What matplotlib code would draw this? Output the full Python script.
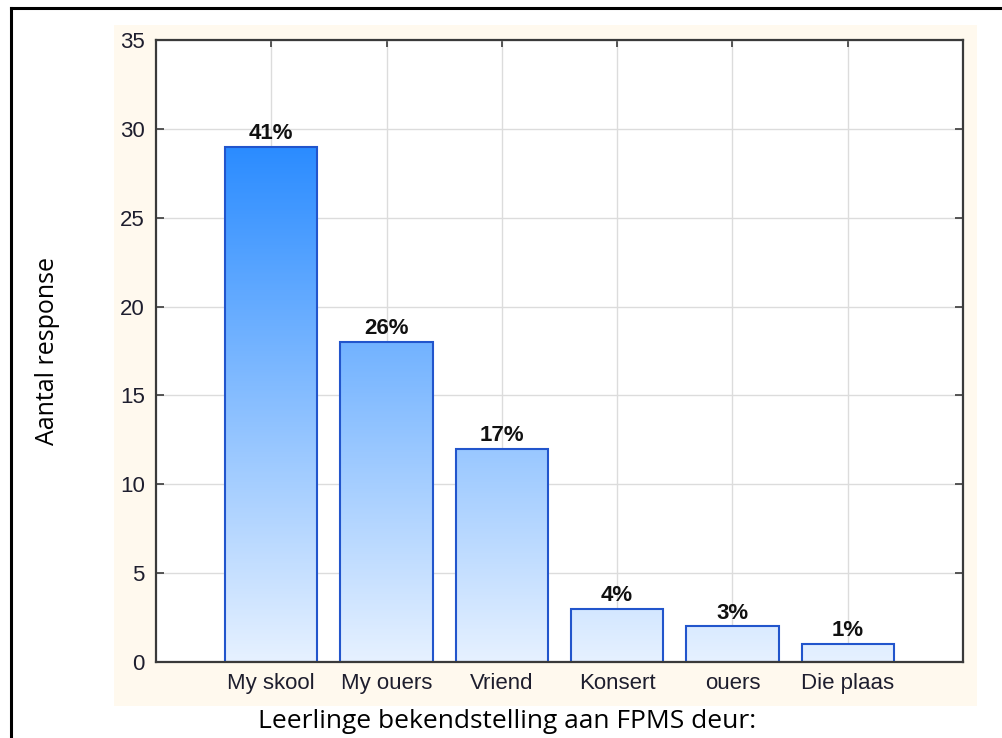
import numpy as np
import matplotlib
matplotlib.use("Agg")
import matplotlib.pyplot as plt
from matplotlib.colors import LinearSegmentedColormap
from matplotlib.patches import Rectangle
from matplotlib.lines import Line2D

categories = ["My skool", "My ouers", "Vriend", "Konsert", "ouers", "Die plaas"]
values = [29, 18, 12, 3, 2, 1]
pct_labels = ["41%", "26%", "17%", "4%", "3%", "1%"]
yticks = [0, 5, 10, 15, 20, 25, 30, 35]
xlabel = "Leerlinge bekendstelling aan FPMS deur:"
ylabel = "Aantal response"

W, H = 1002, 738
fig = plt.figure(figsize=(W / 100, H / 100), dpi=100)
fig.patch.set_facecolor("white")

# cream panel behind the plot
fig.patches.append(Rectangle((114 / W, 1 - 706 / H), (977 - 114) / W, (706 - 25) / H,
                             transform=fig.transFigure, facecolor="#FFF9EE",
                             edgecolor="none", zorder=-10))
# outer black frame (left and top)
fig.lines.append(Line2D([11 / W, 11 / W], [0, 1 - 8 / H], transform=fig.transFigure,
                        color="black", lw=2.2))
fig.lines.append(Line2D([11 / W, 1.0], [1 - 8 / H, 1 - 8 / H], transform=fig.transFigure,
                        color="black", lw=2.2))

ax = fig.add_axes([156 / W, 1 - 662 / H, (963 - 156) / W, (662 - 40) / H])
ax.set_facecolor("white")
ax.set_axisbelow(True)

x = np.arange(len(categories))
bars = ax.bar(x, values, width=0.8, facecolor="none", edgecolor="#2255CC",
              linewidth=1.5, zorder=3)

cmap = LinearSegmentedColormap.from_list("g", ["#E6F1FF", "#2B8CFF"])
vmax = max(values)
for b in bars:
    x0, y0 = b.get_x(), b.get_y()
    w, h = b.get_width(), b.get_height()
    grad = np.linspace(0, h, 200).reshape(-1, 1)
    im = ax.imshow(grad, cmap=cmap, vmin=0, vmax=vmax, origin="lower",
                   extent=[x0, x0 + w, y0, y0 + h], aspect="auto", zorder=2,
                   interpolation="bilinear")
    clip = Rectangle((x0, y0), w, h, transform=ax.transData)
    im.set_clip_path(clip)

for b, lab in zip(bars, pct_labels):
    ax.annotate(lab, (b.get_x() + b.get_width() / 2, b.get_height()),
                xytext=(0, 2), textcoords="offset points", ha="center", va="bottom",
                fontsize=16, fontweight="bold", family="Liberation Sans",
                color="#111111", zorder=4)

ax.set_xlim(-1, len(categories))
ax.set_ylim(0, 35)
ax.set_yticks(yticks)
ax.set_xticks(x)
ax.set_xticklabels(categories)
ax.grid(True, color="#DCDCDC", linewidth=1.0)

for s in ax.spines.values():
    s.set_color("#3A3A3A")
    s.set_linewidth(1.6)
    s.set_zorder(5)

ax.tick_params(axis="both", direction="in", colors="#3A3A3A", labelcolor="#1E1E2E",
               labelsize=16, width=1.2)
ax.tick_params(axis="y", length=6, pad=8, right=True)
ax.tick_params(axis="x", length=5, pad=8, top=True)
for t in ax.get_xticklabels() + ax.get_yticklabels():
    t.set_family("Liberation Sans")

fig.text(507 / W, 1 - 721 / H, xlabel, ha="center", va="center", fontsize=19,
         family="Open Sans", color="black")
fig.text(48 / W, 1 - 351 / H, ylabel, ha="center", va="center", fontsize=18,
         family="Open Sans", color="black", rotation=90)

fig.savefig("out.png", dpi=100, facecolor="white")
